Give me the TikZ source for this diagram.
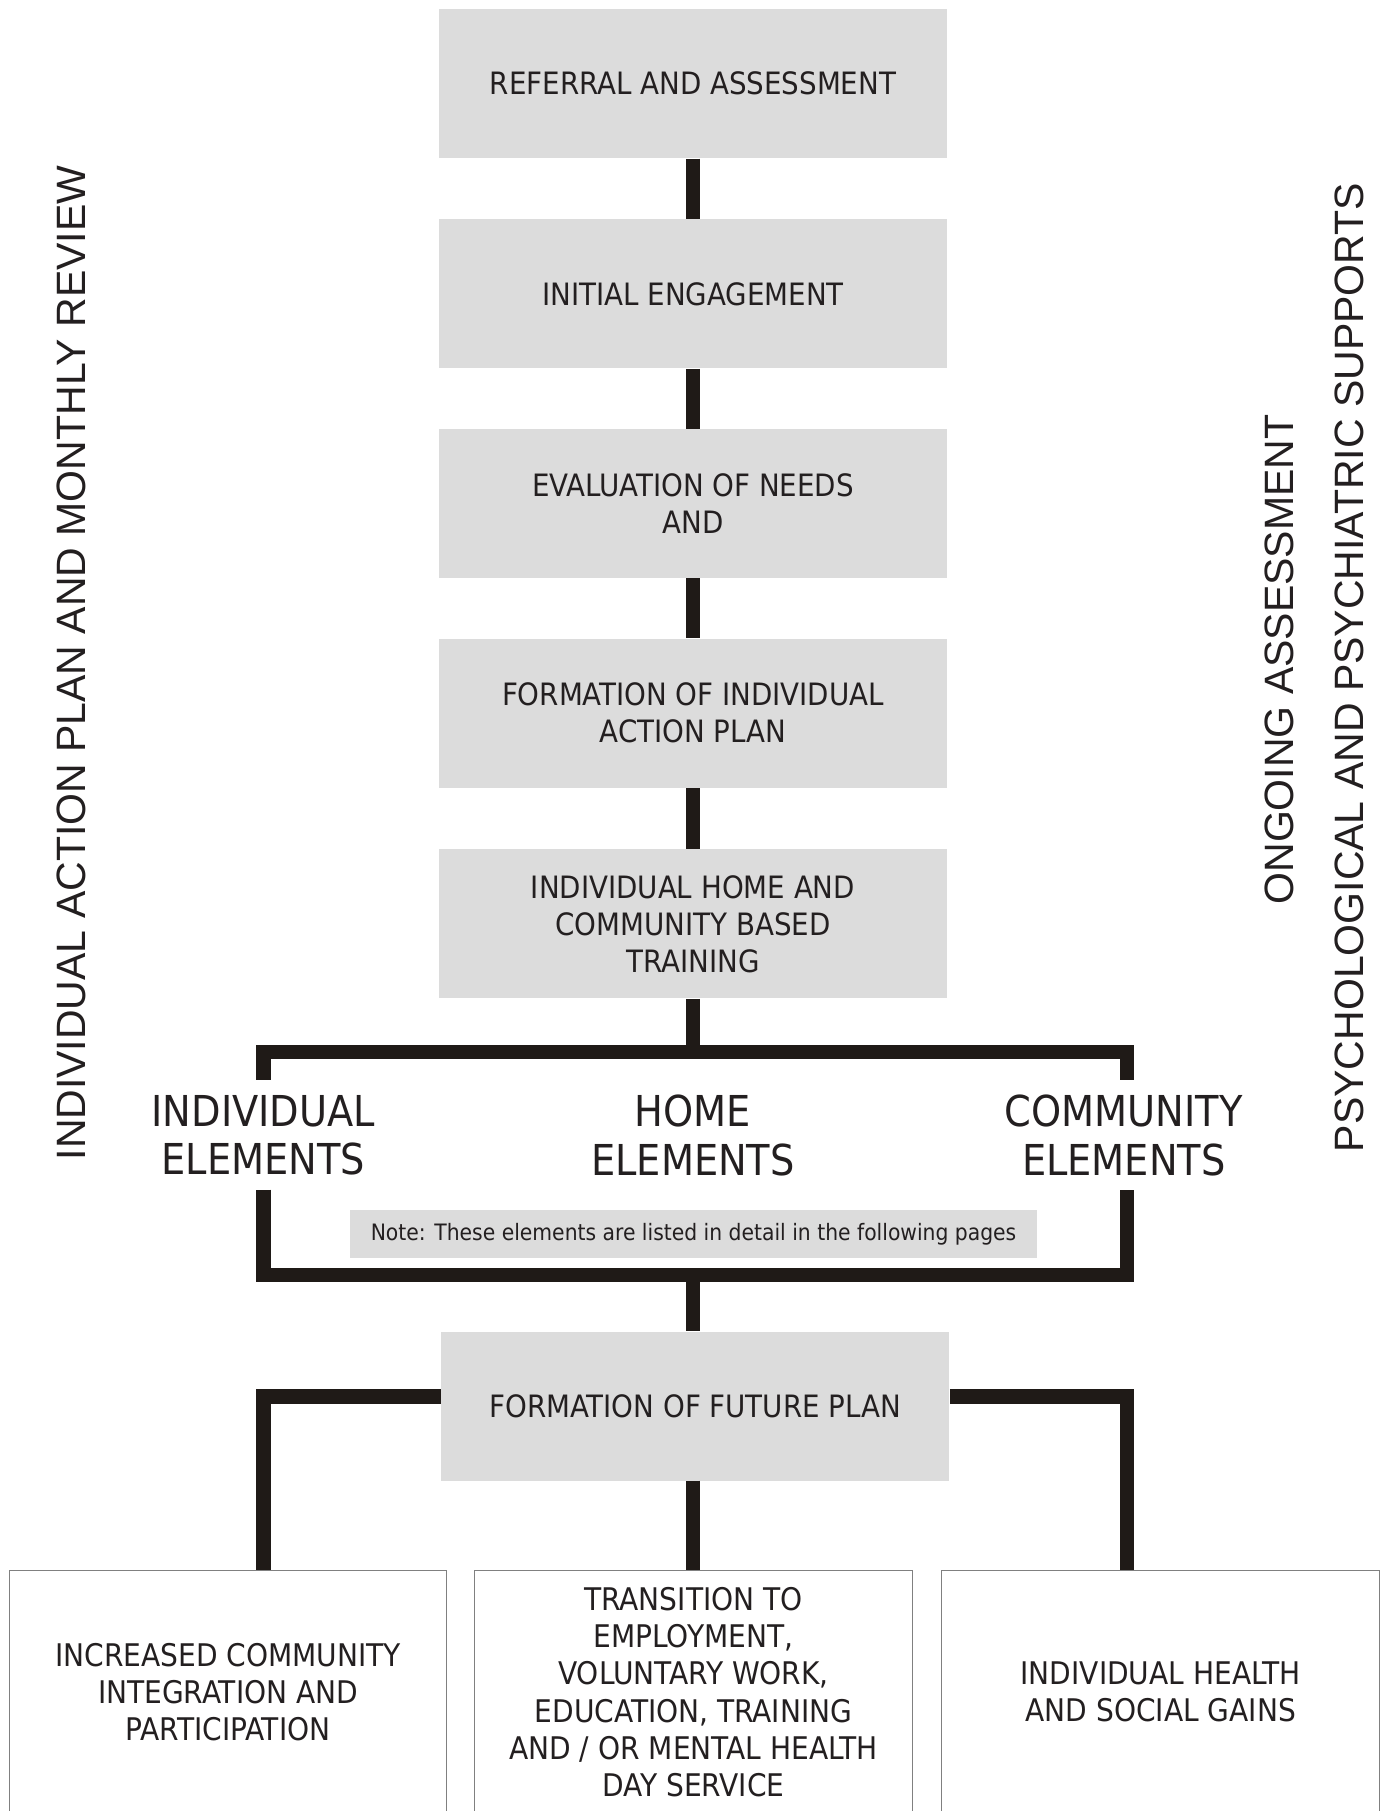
\documentclass[tikz,border=0pt]{standalone}
\usepackage{fontspec}
\setmainfont{DejaVu Sans Condensed}
\newfontfamily\sidefont{Liberation Sans}
\newfontfamily\boxfam{DejaVu Sans Condensed}
\definecolor{boxgray}{HTML}{DCDCDC}
\definecolor{linec}{HTML}{1F1A17}
\definecolor{txt}{HTML}{231F20}
\definecolor{bordergray}{HTML}{808080}
\def\u{0.5775pt}
\tikzset{
  gbox/.style={fill=boxgray, draw=none, minimum width=440*\u, minimum height=129*\u,
    align=center, text=txt, inner sep=0pt,
    font=\boxfam\fontsize{15.4}{18.5}\selectfont},
  wbox/.style={fill=white, draw=bordergray, line width=0.5pt, minimum width=379*\u,
    minimum height=210*\u, align=center, text=txt, inner sep=0pt,
    font=\boxfam\fontsize{15.6}{18.6}\selectfont},
  conn/.style={draw=linec, line width=12.5*\u, line join=miter, line cap=butt},
  biglabel/.style={align=center, text=txt, inner sep=0pt,
    font=\boxfam\fontsize{21.3}{24.3}\selectfont},
  sidelabel/.style={rotate=90, text=txt, inner sep=0pt,
    font=\sidefont\fontsize{20.5}{24}\selectfont},
  notebox/.style={fill=boxgray, minimum width=595*\u, minimum height=41*\u,
    inner sep=0pt, text=txt, font=\boxfam\fontsize{11.3}{13}\selectfont},
}
\begin{document}
\begin{tikzpicture}[x=0.5775pt,y=-0.5775pt]
\path[use as bounding box] (0,0) rectangle (1200,1568);
\clip (0,0) rectangle (1200,1568);
\fill[white] (0,0) rectangle (1200,1568);

% main column
\node[gbox] (b1) at (600,72.5) {REFERRAL AND ASSESSMENT};
\node[gbox] (b2) at (600,254.5) {INITIAL ENGAGEMENT};
\node[gbox] (b3) at (600,436) {EVALUATION OF NEEDS\\AND};
\node[gbox] (b4) at (600,617.5) {FORMATION OF INDIVIDUAL\\ACTION PLAN};
\node[gbox] (b5) at (600,800) {INDIVIDUAL HOME AND\\COMMUNITY BASED\\TRAINING};

\draw[conn] (b1.south) -- (b2.north);
\draw[conn] (b2.south) -- (b3.north);
\draw[conn] (b3.south) -- (b4.north);
\draw[conn] (b4.south) -- (b5.north);

% elements bracket
\coordinate (tl) at (228,911);
\coordinate (tr) at (976,911);
\coordinate (bl) at (228,1104);
\coordinate (br) at (976,1104);
\draw[conn] (b5.south) -- (b5.south |- tl);
\draw[conn] (228,935) -- (tl) -- (tr) -- (976,935);
\draw[conn] (228,1030) -- (bl) -- (br) -- (976,1030);

\node[biglabel] (ie) at (228,983) {INDIVIDUAL\\ELEMENTS};
\node[biglabel] (he) at (600,983) {HOME\\ELEMENTS};
\node[biglabel] (ce) at (973,983) {COMMUNITY\\ELEMENTS};

\node[notebox] (note) at (600.5,1068.5) {Note: These elements are listed in detail in the following pages};

% future plan
\node[gbox] (fp) at (602,1217.5) {FORMATION OF FUTURE PLAN};
\coordinate (bm) at (600,1104);
\draw[conn] (bm) -- (bm |- fp.north);

\node[wbox] (o1) at (197.5,1465) {INCREASED COMMUNITY\\INTEGRATION AND\\PARTICIPATION};
\node[wbox] (o2) at (600.5,1465) {TRANSITION TO\\EMPLOYMENT,\\VOLUNTARY WORK,\\EDUCATION, TRAINING\\AND / OR MENTAL HEALTH\\DAY SERVICE};
\node[wbox] (o3) at (1005,1465) {INDIVIDUAL HEALTH\\AND SOCIAL GAINS};

\coordinate (la) at (228,1209);
\coordinate (ra) at (976,1209);
\coordinate (fs) at (600,1282);
\draw[conn] (fp.west |- la) -- (la) -- (la |- o1.north);
\draw[conn] (fp.east |- ra) -- (ra) -- (ra |- o3.north);
\draw[conn] (fs) -- (fs |- o2.north);

% side labels
\node[sidelabel] (sl) at (62,574) {INDIVIDUAL ACTION PLAN AND MONTHLY REVIEW};
\node[sidelabel] (sr1) at (1108,571) {ONGOING ASSESSMENT};
\node[sidelabel] (sr2) at (1168,578) {PSYCHOLOGICAL AND PSYCHIATRIC SUPPORTS};
\end{tikzpicture}
\end{document}
